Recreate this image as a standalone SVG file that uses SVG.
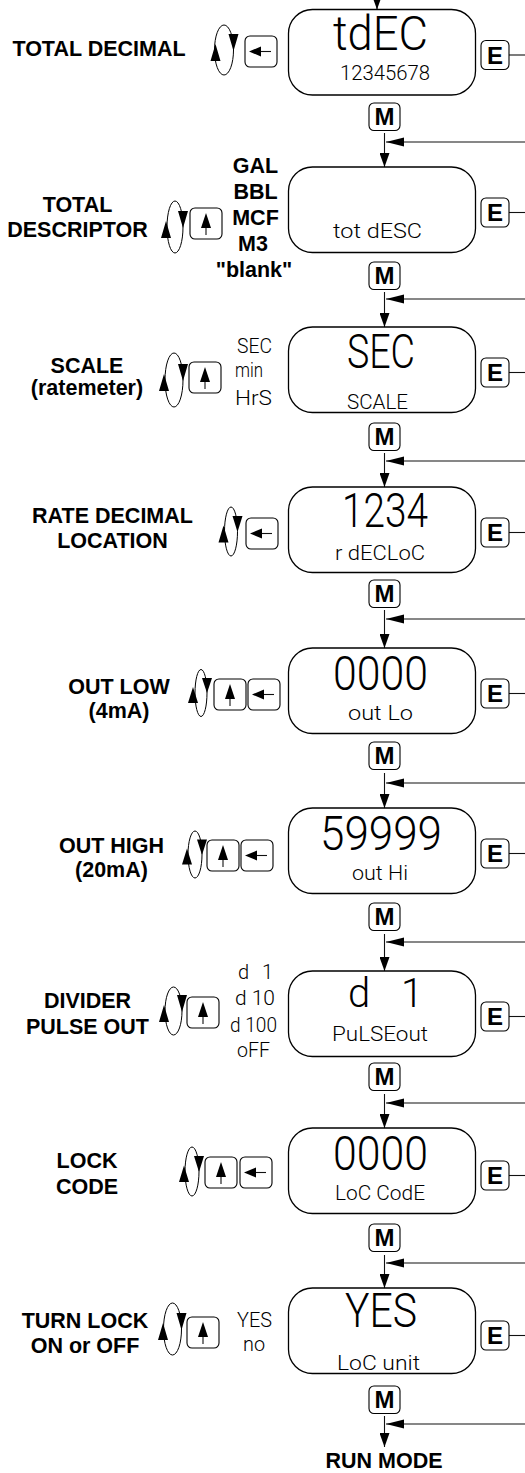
<svg xmlns="http://www.w3.org/2000/svg" width="525" height="1473" viewBox="0 0 525 1473">
<style>
.lbl{font-family:"Liberation Sans",Arial,sans-serif;font-weight:bold;font-size:21.5px;text-anchor:middle;fill:#000}
.key{font-family:"Liberation Sans",Arial,sans-serif;font-weight:bold;font-size:24px;text-anchor:middle;fill:#000}
.seg{font-family:Roboto,"DejaVu Sans",sans-serif;font-weight:300;fill:#000}
.big{font-size:48px}
.sm{font-size:20px}
.disp{fill:#fff;stroke:#000;stroke-width:1.3}
.btn{fill:#fff;stroke:#000;stroke-width:1.1}
.ln{stroke:#111;stroke-width:1.1;fill:none}
.ell{fill:none;stroke:#000;stroke-width:1}
.fl{fill:#000;stroke:none}
</style>
<defs>
<marker id="av" markerUnits="userSpaceOnUse" markerWidth="14" markerHeight="10" refX="14" refY="5" orient="auto"><path d="M0,0 L14,5 L0,10 Z" fill="#000"/></marker>
<marker id="ah" markerUnits="userSpaceOnUse" markerWidth="18" markerHeight="10" refX="18" refY="5" orient="auto"><path d="M0,0.5 L18,5 L0,9.5 Z" fill="#000"/></marker>
<g id="bup"><rect class="btn" x="0" y="0" width="32" height="31" rx="5"/><path class="fl" d="M16,5 L21,20 L11,20 Z"/><line class="ln" x1="16" y1="20" x2="16" y2="27"/></g>
<g id="blt"><rect class="btn" x="0" y="0" width="32" height="31" rx="5"/><path class="fl" d="M4,15.5 L16,10.5 L16,20.5 Z"/><line class="ln" x1="16" y1="15.5" x2="26" y2="15.5"/></g>
<rect id="kb" class="btn" width="28" height="29" rx="5"/>
<rect id="mb" class="btn" width="31" height="27.5" rx="5"/>
</defs>

<g id="connectors">
<line class="ln" x1="377" y1="0" x2="377" y2="9.5" marker-end="url(#av)"/>
<line class="ln" x1="384.5" y1="133" x2="384.5" y2="167" marker-end="url(#av)"/>
<line class="ln" x1="525" y1="142" x2="386" y2="142" marker-end="url(#ah)"/>
<line class="ln" x1="384.5" y1="292" x2="384.5" y2="327" marker-end="url(#av)"/>
<line class="ln" x1="525" y1="299" x2="386" y2="299" marker-end="url(#ah)"/>
<line class="ln" x1="384.5" y1="453" x2="384.5" y2="487" marker-end="url(#av)"/>
<line class="ln" x1="525" y1="461" x2="386" y2="461" marker-end="url(#ah)"/>
<line class="ln" x1="384.5" y1="610" x2="384.5" y2="648" marker-end="url(#av)"/>
<line class="ln" x1="525" y1="619" x2="386" y2="619" marker-end="url(#ah)"/>
<line class="ln" x1="384.5" y1="773" x2="384.5" y2="808" marker-end="url(#av)"/>
<line class="ln" x1="525" y1="783" x2="386" y2="783" marker-end="url(#ah)"/>
<line class="ln" x1="384.5" y1="934" x2="384.5" y2="971" marker-end="url(#av)"/>
<line class="ln" x1="525" y1="942" x2="386" y2="942" marker-end="url(#ah)"/>
<line class="ln" x1="384.5" y1="1094" x2="384.5" y2="1128" marker-end="url(#av)"/>
<line class="ln" x1="525" y1="1103" x2="386" y2="1103" marker-end="url(#ah)"/>
<line class="ln" x1="384.5" y1="1255" x2="384.5" y2="1288" marker-end="url(#av)"/>
<line class="ln" x1="525" y1="1263" x2="386" y2="1263" marker-end="url(#ah)"/>
<line class="ln" x1="384.5" y1="1416" x2="384.5" y2="1447" marker-end="url(#av)"/>
<line class="ln" x1="525" y1="1424" x2="386" y2="1424" marker-end="url(#ah)"/>
<line class="ln" x1="509" y1="55" x2="525" y2="55"/>
<line class="ln" x1="509" y1="212.5" x2="525" y2="212.5"/>
<line class="ln" x1="509" y1="372.5" x2="525" y2="372.5"/>
<line class="ln" x1="509" y1="532.5" x2="525" y2="532.5"/>
<line class="ln" x1="509" y1="693.5" x2="525" y2="693.5"/>
<line class="ln" x1="509" y1="853.5" x2="525" y2="853.5"/>
<line class="ln" x1="509" y1="1016.5" x2="525" y2="1016.5"/>
<line class="ln" x1="509" y1="1175.5" x2="525" y2="1175.5"/>
<line class="ln" x1="509" y1="1335.5" x2="525" y2="1335.5"/>
</g>

<g id="stage-tdec">
<rect class="disp" x="288.5" y="9.5" width="187" height="85.5" rx="24"/>
<text class="seg big" x="333" y="50" textLength="95" lengthAdjust="spacingAndGlyphs">tdEC</text>
<text class="seg sm" x="340" y="80" textLength="90" lengthAdjust="spacingAndGlyphs">12345678</text>
<use href="#kb" x="481" y="40.5"/><text class="key" x="495" y="63.6">E</text>
<use href="#mb" x="369" y="103"/><text class="key" x="384.5" y="125.3">M</text>
<text class="lbl" x="99" y="56">TOTAL DECIMAL</text>
<g><ellipse class="ell" cx="224" cy="50" rx="9.5" ry="25"/><path class="fl" d="M228.5,34 L238.5,34 L233.5,51 Z M215.5,44 L220.5,61 L210.5,61 Z"/></g>
<use href="#blt" x="245" y="36"/>
</g>

<g id="stage-totdesc">
<rect class="disp" x="288.5" y="167" width="187" height="85.5" rx="24"/>
<text class="seg sm" x="333" y="238" textLength="89" lengthAdjust="spacingAndGlyphs">tot dESC</text>
<use href="#kb" x="481" y="198"/><text class="key" x="495" y="221.1">E</text>
<use href="#mb" x="369" y="262"/><text class="key" x="384.5" y="284.3">M</text>
<text class="lbl" x="77.5" y="212">TOTAL</text>
<text class="lbl" x="77.5" y="237">DESCRIPTOR</text>
<g><ellipse class="ell" cx="175" cy="227" rx="8" ry="26"/><path class="fl" d="M178,211 L188,211 L183,228 Z M166,221 L171,238 L161,238 Z"/></g>
<use href="#bup" x="190" y="208"/>
<text class="lbl" x="255.5" y="173">GAL</text>
<text class="lbl" x="255.5" y="199">BBL</text>
<text class="lbl" x="255.5" y="225">MCF</text>
<text class="lbl" x="253" y="251">M3</text>
<text class="lbl" x="254" y="277">"blank"</text>
</g>

<g id="stage-scale">
<rect class="disp" x="288.5" y="327" width="187" height="85.5" rx="24"/>
<text class="seg big" x="347" y="368" textLength="68" lengthAdjust="spacingAndGlyphs">SEC</text>
<text class="seg sm" x="347" y="409" textLength="61" lengthAdjust="spacingAndGlyphs">SCALE</text>
<use href="#kb" x="481" y="358"/><text class="key" x="495" y="381.1">E</text>
<use href="#mb" x="369" y="423"/><text class="key" x="384.5" y="445.3">M</text>
<text class="lbl" x="87" y="373">SCALE</text>
<text class="lbl" x="87" y="394.5">(ratemeter)</text>
<g><ellipse class="ell" cx="174" cy="380" rx="9" ry="27"/><path class="fl" d="M178,364 L188,364 L183,381 Z M164,374 L169,391 L159,391 Z"/></g>
<use href="#bup" x="189" y="362"/>
<text class="seg sm" x="237" y="353" textLength="35" lengthAdjust="spacingAndGlyphs">SEC</text>
<text class="seg sm" x="235" y="377" textLength="28" lengthAdjust="spacingAndGlyphs">min</text>
<text class="seg sm" x="235" y="405" textLength="37" lengthAdjust="spacingAndGlyphs">HrS</text>
</g>

<g id="stage-rdecloc">
<rect class="disp" x="288.5" y="487" width="187" height="85.5" rx="24"/>
<text class="seg big" x="342" y="527" textLength="86" lengthAdjust="spacingAndGlyphs">1234</text>
<text class="seg sm" x="335" y="560" textLength="90" lengthAdjust="spacingAndGlyphs">r dECLoC</text>
<use href="#kb" x="481" y="518"/><text class="key" x="495" y="541.1">E</text>
<use href="#mb" x="369" y="580"/><text class="key" x="384.5" y="602.3">M</text>
<text class="lbl" x="112.5" y="523">RATE DECIMAL</text>
<text class="lbl" x="112.5" y="548">LOCATION</text>
<g><ellipse class="ell" cx="231" cy="531.5" rx="6.5" ry="24.5"/><path class="fl" d="M232.5,516 L242.5,516 L237.5,532 Z M223.5,525.5 L228.5,542.5 L218.5,542.5 Z"/></g>
<use href="#blt" x="246" y="518"/>
</g>

<g id="stage-outlo">
<rect class="disp" x="288.5" y="648" width="187" height="85.5" rx="24"/>
<text class="seg big" x="333" y="690" textLength="95" lengthAdjust="spacingAndGlyphs">0000</text>
<text class="seg sm" x="348" y="720" textLength="65" lengthAdjust="spacingAndGlyphs">out Lo</text>
<use href="#kb" x="481" y="679"/><text class="key" x="495" y="702.1">E</text>
<use href="#mb" x="369" y="742"/><text class="key" x="384.5" y="764.3">M</text>
<text class="lbl" x="119" y="694">OUT LOW</text>
<text class="lbl" x="119" y="718">(4mA)</text>
<g><ellipse class="ell" cx="201" cy="693" rx="6" ry="23.5"/><path class="fl" d="M202,678 L212,678 L207,693 Z M193,687 L198,703 L188,703 Z"/></g>
<use href="#bup" x="214" y="679"/>
<use href="#blt" x="248" y="679"/>
</g>

<g id="stage-outhi">
<rect class="disp" x="288.5" y="808" width="187" height="85.5" rx="24"/>
<text class="seg big" x="320" y="850" textLength="122" lengthAdjust="spacingAndGlyphs">59999</text>
<text class="seg sm" x="352" y="880" textLength="56" lengthAdjust="spacingAndGlyphs">out Hi</text>
<use href="#kb" x="481" y="839"/><text class="key" x="495" y="862.1">E</text>
<use href="#mb" x="369" y="903"/><text class="key" x="384.5" y="925.3">M</text>
<text class="lbl" x="111.5" y="853">OUT HIGH</text>
<text class="lbl" x="111.5" y="877">(20mA)</text>
<g><ellipse class="ell" cx="195" cy="854.5" rx="7" ry="23.5"/><path class="fl" d="M197,839.5 L207,839.5 L202,855 Z M187,848.5 L192,864.5 L182,864.5 Z"/></g>
<use href="#bup" x="207" y="840"/>
<use href="#blt" x="241" y="840"/>
</g>

<g id="stage-pulseout">
<rect class="disp" x="288.5" y="971" width="187" height="85.5" rx="24"/>
<text class="seg" font-size="40" x="348" y="1007">d <tspan x="401">1</tspan></text>
<text class="seg sm" x="332" y="1041" textLength="96" lengthAdjust="spacingAndGlyphs">PuLSEout</text>
<use href="#kb" x="481" y="1002"/><text class="key" x="495" y="1025.1">E</text>
<use href="#mb" x="369" y="1063"/><text class="key" x="384.5" y="1085.3">M</text>
<text class="lbl" x="87.5" y="1008">DIVIDER</text>
<text class="lbl" x="87.5" y="1034">PULSE OUT</text>
<g><ellipse class="ell" cx="173.5" cy="1011" rx="8.5" ry="24"/><path class="fl" d="M177,995 L187,995 L182,1012 Z M164,1005 L169,1022 L159,1022 Z"/></g>
<use href="#bup" x="187" y="997"/>
<text class="seg sm" x="238" y="979">d <tspan x="262">1</tspan></text>
<text class="seg sm" x="235" y="1005" textLength="40" lengthAdjust="spacingAndGlyphs">d 10</text>
<text class="seg sm" x="230" y="1032" textLength="47" lengthAdjust="spacingAndGlyphs">d 100</text>
<text class="seg sm" x="237" y="1057" textLength="33" lengthAdjust="spacingAndGlyphs">oFF</text>
</g>

<g id="stage-loccode">
<rect class="disp" x="288.5" y="1128" width="187" height="85.5" rx="24"/>
<text class="seg big" x="333" y="1170" textLength="95" lengthAdjust="spacingAndGlyphs">0000</text>
<text class="seg sm" x="335" y="1200" textLength="90" lengthAdjust="spacingAndGlyphs">LoC CodE</text>
<use href="#kb" x="481" y="1161"/><text class="key" x="495" y="1184.1">E</text>
<use href="#mb" x="369" y="1224"/><text class="key" x="384.5" y="1246.3">M</text>
<text class="lbl" x="87" y="1168">LOCK</text>
<text class="lbl" x="87" y="1194">CODE</text>
<g><ellipse class="ell" cx="192" cy="1171.5" rx="7" ry="24.5"/><path class="fl" d="M194,1156 L204,1156 L199,1172 Z M184,1165.5 L189,1182 L179,1182 Z"/></g>
<use href="#bup" x="205" y="1157"/>
<use href="#blt" x="240" y="1157"/>
</g>

<g id="stage-locunit">
<rect class="disp" x="288.5" y="1288" width="187" height="85.5" rx="24"/>
<text class="seg big" x="345" y="1327" textLength="72" lengthAdjust="spacingAndGlyphs">YES</text>
<text class="seg sm" x="337" y="1370" textLength="83" lengthAdjust="spacingAndGlyphs">LoC unit</text>
<use href="#kb" x="481" y="1321"/><text class="key" x="495" y="1344.1">E</text>
<use href="#mb" x="369" y="1386"/><text class="key" x="384.5" y="1408.3">M</text>
<text class="lbl" x="85" y="1328">TURN LOCK</text>
<text class="lbl" x="85" y="1353">ON or OFF</text>
<g><ellipse class="ell" cx="172.5" cy="1329" rx="9" ry="26"/><path class="fl" d="M176.5,1313 L186.5,1313 L181.5,1330 Z M163,1323 L168,1340 L158,1340 Z"/></g>
<use href="#bup" x="187" y="1317"/>
<text class="seg sm" x="237" y="1327" textLength="35" lengthAdjust="spacingAndGlyphs">YES</text>
<text class="seg sm" x="243" y="1351" textLength="22" lengthAdjust="spacingAndGlyphs">no</text>
</g>

<g id="run-mode">
<text class="lbl" x="384" y="1468">RUN MODE</text>
</g>
</svg>
